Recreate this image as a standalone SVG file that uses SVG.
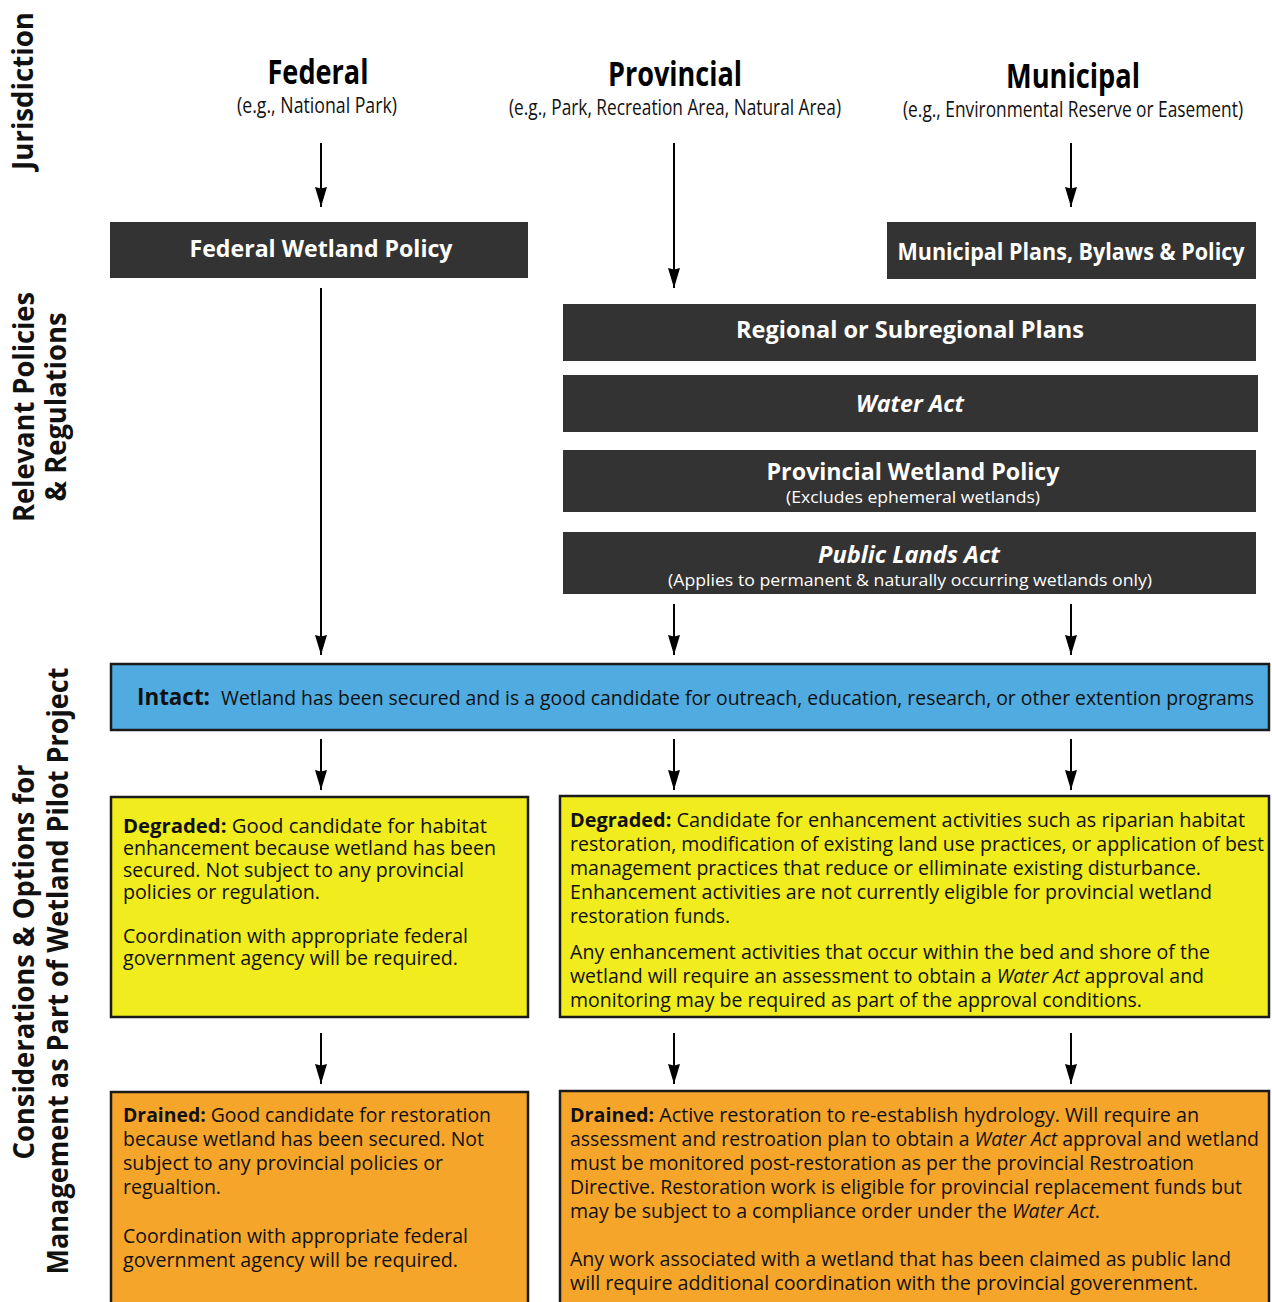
<svg xmlns="http://www.w3.org/2000/svg" width="1272" height="1302" viewBox="0 0 1272 1302">
<defs>
<marker id="ah" viewBox="0 0 20 12" refX="20" refY="6" markerWidth="20" markerHeight="12" markerUnits="userSpaceOnUse" orient="auto">
<path d="M0,0 L20,6 L0,12 L1.5,6 z" fill="#000"/>
</marker>
<style>
text{font-family:"Open Sans","Liberation Sans",sans-serif;}
.sec{font-size:29px;font-weight:700;fill:#111;text-anchor:middle;}
.jh{font-size:34px;font-weight:700;fill:#000;text-anchor:middle;}
.js{font-size:21px;fill:#111;text-anchor:middle;}
.dk{fill:#333333;}
.dt{font-size:24px;font-weight:700;fill:#fff;text-anchor:middle;}
.ds{font-size:17px;fill:#fff;text-anchor:middle;}
.bx{stroke:#1a1a1a;stroke-width:2.5;}
.bt{font-size:20px;fill:#111;}
.b{font-weight:700;}
.i{font-style:italic;}
.con line{stroke:#000;stroke-width:2;marker-end:url(#ah);}
</style>
</defs>

<g id="section-labels">
<text class="sec" transform="translate(33,91) rotate(-90)" textLength="158" lengthAdjust="spacingAndGlyphs">Jurisdiction</text>
<text class="sec" transform="translate(34,407) rotate(-90)" textLength="230" lengthAdjust="spacingAndGlyphs">Relevant Policies</text>
<text class="sec" transform="translate(66,407) rotate(-90)" textLength="189" lengthAdjust="spacingAndGlyphs">&amp; Regulations</text>
<text class="sec" transform="translate(34,962) rotate(-90)" textLength="395" lengthAdjust="spacingAndGlyphs">Considerations &amp; Options for</text>
<text class="sec" transform="translate(68,971) rotate(-90)" textLength="607" lengthAdjust="spacingAndGlyphs">Management as Part of Wetland Pilot Project</text>
</g>

<g id="federal">
<text class="jh" x="318" y="84" textLength="101" lengthAdjust="spacingAndGlyphs">Federal</text>
<text class="js" x="317" y="113" textLength="160" lengthAdjust="spacingAndGlyphs">(e.g., National Park)</text>
</g>
<g id="provincial">
<text class="jh" x="675" y="86" textLength="134" lengthAdjust="spacingAndGlyphs">Provincial</text>
<text class="js" x="675" y="115" textLength="332" lengthAdjust="spacingAndGlyphs">(e.g., Park, Recreation Area, Natural Area)</text>
</g>
<g id="municipal">
<text class="jh" x="1073" y="88" textLength="134" lengthAdjust="spacingAndGlyphs">Municipal</text>
<text class="js" x="1073" y="117" textLength="340" lengthAdjust="spacingAndGlyphs">(e.g., Environmental Reserve or Easement)</text>
</g>

<g id="federal-wetland-policy">
<rect class="dk" x="110" y="222" width="418" height="56"/>
<text class="dt" x="321" y="257" textLength="263" lengthAdjust="spacingAndGlyphs">Federal Wetland Policy</text>
</g>
<g id="municipal-plans">
<rect class="dk" x="887" y="222" width="369" height="57"/>
<text class="dt" x="1071" y="260" textLength="347" lengthAdjust="spacingAndGlyphs">Municipal Plans, Bylaws &amp; Policy</text>
</g>
<g id="regional-plans">
<rect class="dk" x="563" y="304" width="693" height="57"/>
<text class="dt" x="910" y="338" textLength="348" lengthAdjust="spacingAndGlyphs">Regional or Subregional Plans</text>
</g>
<g id="water-act">
<rect class="dk" x="563" y="375" width="695" height="57"/>
<text class="dt i" x="910" y="412" textLength="108" lengthAdjust="spacingAndGlyphs">Water Act</text>
</g>
<g id="provincial-wetland-policy">
<rect class="dk" x="563" y="450" width="693" height="62"/>
<text class="dt" x="913" y="480" textLength="293" lengthAdjust="spacingAndGlyphs">Provincial Wetland Policy</text>
<text class="ds" x="913" y="503" textLength="254" lengthAdjust="spacingAndGlyphs">(Excludes ephemeral wetlands)</text>
</g>
<g id="public-lands-act">
<rect class="dk" x="563" y="532" width="693" height="62"/>
<text class="dt i" x="909" y="563" textLength="182" lengthAdjust="spacingAndGlyphs">Public Lands Act</text>
<text class="ds" x="910" y="586" textLength="484" lengthAdjust="spacingAndGlyphs">(Applies to permanent &amp; naturally occurring wetlands only)</text>
</g>

<g id="intact">
<rect class="bx" x="111" y="664" width="1158" height="66" fill="#4FABE0"/>
<text x="137" y="705" style="font-size:23px;font-weight:700;fill:#111" textLength="73" lengthAdjust="spacingAndGlyphs">Intact:</text>
<text x="221" y="705" style="font-size:20px;fill:#111" textLength="1033" lengthAdjust="spacingAndGlyphs">Wetland has been secured and is a good candidate for outreach, education, research, or other extention programs</text>
</g>

<g id="degraded-federal">
<rect class="bx" x="111" y="797" width="417" height="220" fill="#F0EC1E"/>
<text class="bt" x="123" y="833" textLength="364" lengthAdjust="spacingAndGlyphs"><tspan class="b">Degraded:</tspan> Good candidate for habitat</text>
<text class="bt" x="123" y="855" textLength="373" lengthAdjust="spacingAndGlyphs">enhancement because wetland has been</text>
<text class="bt" x="123" y="877" textLength="341" lengthAdjust="spacingAndGlyphs">secured. Not subject to any provincial</text>
<text class="bt" x="123" y="899" textLength="197" lengthAdjust="spacingAndGlyphs">policies or regulation.</text>
<text class="bt" x="123" y="943" textLength="345" lengthAdjust="spacingAndGlyphs">Coordination with appropriate federal</text>
<text class="bt" x="123" y="965" textLength="335" lengthAdjust="spacingAndGlyphs">government agency will be required.</text>
</g>

<g id="degraded-provincial-municipal">
<rect class="bx" x="560" y="796" width="709" height="221" fill="#F0EC1E"/>
<text class="bt" x="570" y="827" textLength="675" lengthAdjust="spacingAndGlyphs"><tspan class="b">Degraded:</tspan> Candidate for enhancement activities such as riparian habitat</text>
<text class="bt" x="570" y="851" textLength="694" lengthAdjust="spacingAndGlyphs">restoration, modification of existing land use practices, or application of best</text>
<text class="bt" x="570" y="875" textLength="631" lengthAdjust="spacingAndGlyphs">management practices that reduce or elliminate existing disturbance.</text>
<text class="bt" x="570" y="899" textLength="642" lengthAdjust="spacingAndGlyphs">Enhancement activities are not currently eligible for provincial wetland</text>
<text class="bt" x="570" y="923" textLength="160" lengthAdjust="spacingAndGlyphs">restoration funds.</text>
<text class="bt" x="570" y="959" textLength="640" lengthAdjust="spacingAndGlyphs">Any enhancement activities that occur within the bed and shore of the</text>
<text class="bt" x="570" y="983" textLength="634" lengthAdjust="spacingAndGlyphs">wetland will require an assessment to obtain a <tspan class="i">Water Act</tspan> approval and</text>
<text class="bt" x="570" y="1007" textLength="572" lengthAdjust="spacingAndGlyphs">monitoring may be required as part of the approval conditions.</text>
</g>

<g id="drained-federal">
<rect class="bx" x="111" y="1092" width="417" height="215" fill="#F6A52B"/>
<text class="bt" x="123" y="1122" textLength="368" lengthAdjust="spacingAndGlyphs"><tspan class="b">Drained:</tspan> Good candidate for restoration</text>
<text class="bt" x="123" y="1146" textLength="361" lengthAdjust="spacingAndGlyphs">because wetland has been secured. Not</text>
<text class="bt" x="123" y="1170" textLength="320" lengthAdjust="spacingAndGlyphs">subject to any provincial policies or</text>
<text class="bt" x="123" y="1194" textLength="98" lengthAdjust="spacingAndGlyphs">regualtion.</text>
<text class="bt" x="123" y="1243" textLength="345" lengthAdjust="spacingAndGlyphs">Coordination with appropriate federal</text>
<text class="bt" x="123" y="1267" textLength="335" lengthAdjust="spacingAndGlyphs">government agency will be required.</text>
</g>

<g id="drained-provincial-municipal">
<rect class="bx" x="560" y="1091" width="709" height="216" fill="#F6A52B"/>
<text class="bt" x="570" y="1122" textLength="629" lengthAdjust="spacingAndGlyphs"><tspan class="b">Drained:</tspan> Active restoration to re-establish hydrology. Will require an</text>
<text class="bt" x="570" y="1146" textLength="689" lengthAdjust="spacingAndGlyphs">assessment and restroation plan to obtain a <tspan class="i">Water Act</tspan> approval and wetland</text>
<text class="bt" x="570" y="1170" textLength="624" lengthAdjust="spacingAndGlyphs">must be monitored post-restoration as per the provincial Restroation</text>
<text class="bt" x="570" y="1194" textLength="672" lengthAdjust="spacingAndGlyphs">Directive. Restoration work is eligible for provincial replacement funds but</text>
<text class="bt" x="570" y="1218" textLength="530" lengthAdjust="spacingAndGlyphs">may be subject to a compliance order under the <tspan class="i">Water Act</tspan>.</text>
<text class="bt" x="570" y="1266" textLength="661" lengthAdjust="spacingAndGlyphs">Any work associated with a wetland that has been claimed as public land</text>
<text class="bt" x="570" y="1290" textLength="628" lengthAdjust="spacingAndGlyphs">will require additional coordination with the provincial goverenment.</text>
</g>

<g id="connectors" class="con">
<line x1="321" y1="143" x2="321" y2="207"/>
<line x1="674" y1="143" x2="674" y2="288"/>
<line x1="1071" y1="143" x2="1071" y2="207"/>
<line x1="321" y1="288" x2="321" y2="655"/>
<line x1="674" y1="604" x2="674" y2="655"/>
<line x1="1071" y1="604" x2="1071" y2="655"/>
<line x1="321" y1="739" x2="321" y2="790"/>
<line x1="674" y1="739" x2="674" y2="790"/>
<line x1="1071" y1="739" x2="1071" y2="790"/>
<line x1="321" y1="1033" x2="321" y2="1084"/>
<line x1="674" y1="1033" x2="674" y2="1084"/>
<line x1="1071" y1="1033" x2="1071" y2="1084"/>
</g>
</svg>
